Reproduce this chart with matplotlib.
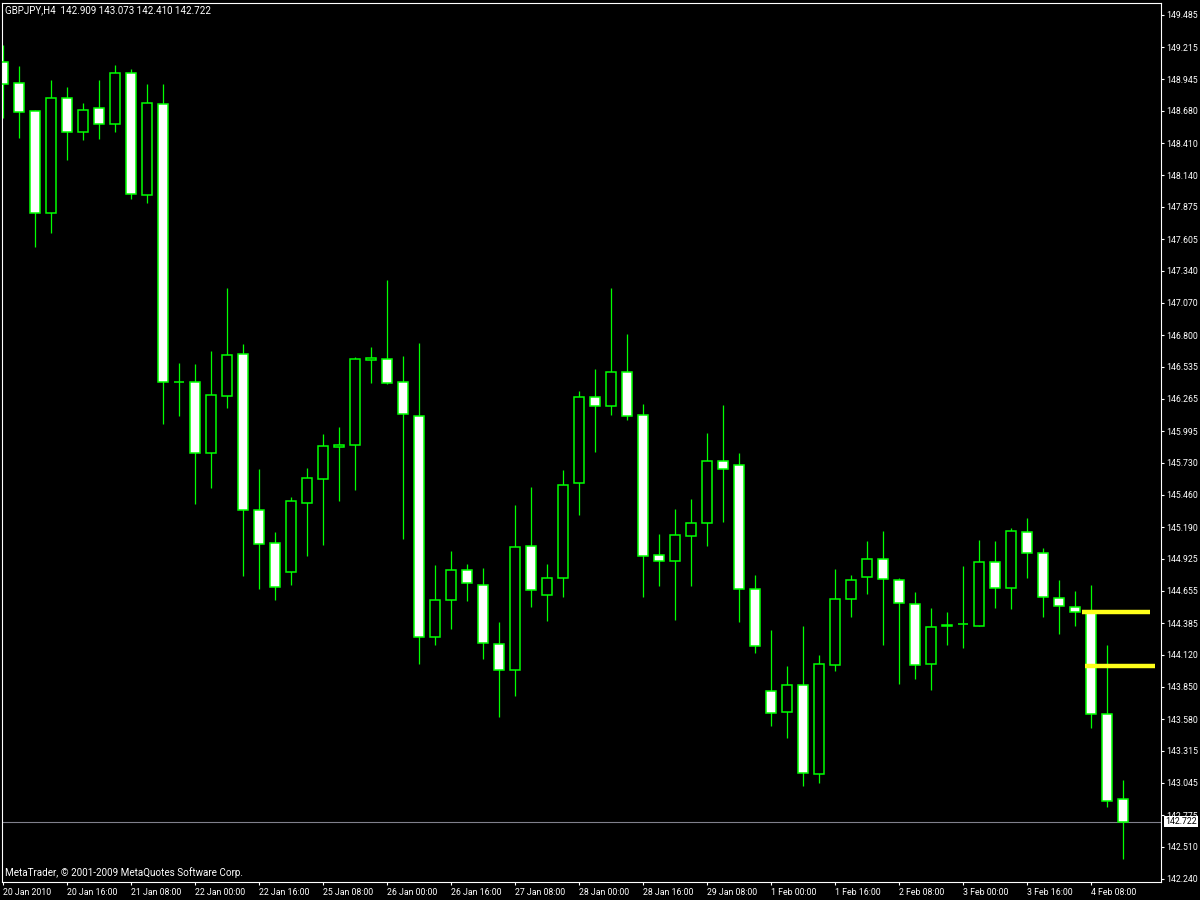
import numpy as np
import matplotlib
matplotlib.use("Agg")
import matplotlib.pyplot as plt
from matplotlib.transforms import blended_transform_factory

plt.rcParams['font.family'] = ['Roboto', 'DejaVu Sans']

symbol = "GBPJPY,H4"

# H4 bars, 20 Jan 2010 00:00 -> 4 Feb 2010 16:00
opens = [149.088, 148.912, 148.678, 147.822, 148.787, 148.507, 148.703, 148.574, 148.996, 147.973,
         148.736, 146.405, 146.405, 145.815, 146.293, 146.640, 145.332, 145.055, 144.817, 145.396,
         145.597, 145.860, 145.877, 146.595, 146.598, 146.405, 146.123, 144.267, 144.577, 144.829,
         144.703, 144.208, 143.990, 145.030, 144.619, 144.762, 145.558, 146.279, 146.209, 146.489,
         146.128, 144.954, 144.909, 145.119, 145.228, 145.743, 145.709, 144.669, 143.814, 143.643,
         143.864, 143.118, 144.037, 144.585, 144.770, 144.921, 144.745, 144.544, 144.040, 144.360,
         144.376, 144.364, 144.896, 144.678, 145.147, 144.971, 144.594, 144.518, 144.476, 143.621,
         142.909]
highs = [149.233, 149.057, 148.689, 148.940, 148.881, 148.747, 148.940, 149.066, 149.032, 148.907,
         148.907, 146.567, 146.559, 146.668, 147.196, 146.726, 145.678, 145.150, 145.443, 145.686,
         145.972, 146.030, 146.617, 146.701, 147.263, 146.626, 146.735, 144.873, 144.990, 144.882,
         144.848, 144.395, 145.376, 145.527, 144.882, 145.670, 146.332, 146.517, 147.196, 146.810,
         146.223, 145.133, 145.343, 145.427, 145.980, 146.215, 145.812, 144.789, 144.328, 144.026,
         144.362, 144.118, 144.840, 144.789, 145.074, 145.158, 144.764, 144.647, 144.513, 144.479,
         144.865, 145.083, 145.074, 145.183, 145.267, 145.016, 144.747, 144.655, 144.705, 144.202,
         143.073]
lows = [148.621, 148.456, 147.542, 147.660, 148.272, 148.440, 148.448, 148.507, 147.942, 147.911,
        146.058, 146.125, 145.387, 145.521, 146.192, 144.783, 144.672, 144.580, 144.705, 144.951,
        145.043, 145.412, 145.505, 146.402, 146.390, 145.094, 144.045, 144.202, 144.339, 144.574,
        144.087, 143.601, 143.777, 144.523, 144.406, 144.607, 145.295, 145.821, 146.133, 146.091,
        144.607, 144.700, 144.412, 144.700, 145.035, 145.236, 144.398, 144.138, 143.526, 143.425,
        143.022, 143.048, 143.987, 144.439, 144.632, 144.205, 143.878, 143.920, 143.827, 144.205,
        144.180, 144.360, 144.515, 144.507, 144.767, 144.439, 144.297, 144.364, 143.509, 142.846,
        142.410]
closes = [148.904, 148.674, 147.827, 148.787, 148.507, 148.686, 148.574, 148.996, 147.987, 148.745,
          146.410, 146.405, 145.815, 146.296, 146.632, 145.332, 145.052, 144.686, 145.407, 145.600,
          145.868, 145.877, 146.598, 146.605, 146.397, 146.137, 144.267, 144.577, 144.829, 144.720,
          144.216, 143.990, 145.022, 144.666, 144.762, 145.541, 146.279, 146.209, 146.489, 146.125,
          144.951, 144.904, 145.122, 145.223, 145.743, 145.681, 144.668, 144.196, 143.635, 143.864,
          143.126, 144.040, 144.585, 144.745, 144.921, 144.753, 144.552, 144.032, 144.351, 144.368,
          144.376, 144.896, 144.678, 145.156, 144.971, 144.602, 144.527, 144.476, 143.621, 142.891,
          142.722]

time_labels = ["20 Jan 2010", "20 Jan 16:00", "21 Jan 08:00", "22 Jan 00:00", "22 Jan 16:00",
               "25 Jan 08:00", "26 Jan 00:00", "26 Jan 16:00", "27 Jan 08:00", "28 Jan 00:00",
               "28 Jan 16:00", "29 Jan 08:00", "1 Feb 00:00", "1 Feb 16:00", "2 Feb 08:00",
               "3 Feb 00:00", "3 Feb 16:00", "4 Feb 08:00"]
bars_per_label = 4

price_ticks = [149.485, 149.215, 148.945, 148.680, 148.410, 148.140, 147.875, 147.605, 147.340,
               147.070, 146.800, 146.535, 146.265, 145.995, 145.730, 145.460, 145.190, 144.925,
               144.655, 144.385, 144.120, 143.850, 143.580, 143.315, 143.045, 142.775, 142.510,
               142.240]

# two yellow level objects drawn near the last bars
levels = [144.481, 144.028]
level_spans = [(67.4, 71.7), (67.6, 72.0)]

GREEN = "#00ff00"
FS = 6.3
W, H = 1200, 900

fig = plt.figure(figsize=(12, 9), dpi=100, facecolor="black")
ax = fig.add_axes([2 / W, 18 / H, 1159 / W, 879 / H], facecolor="black")

x = np.arange(len(opens))
o = np.array(opens)
c = np.array(closes)
up = c > o

ax.axhline(closes[-1], color="#80808c", lw=0.8, zorder=1)
ax.vlines(x, lows, highs, color=GREEN, lw=0.9, zorder=2)
ax.bar(x, np.abs(c - o), width=0.6, bottom=np.minimum(o, c),
       color=np.where(up, "black", "white"), edgecolor=GREEN, linewidth=1.1, zorder=3)

for lvl, (x0, x1) in zip(levels, level_spans):
    ax.hlines(lvl, x0, x1, color="#ffff1a", lw=3.2, zorder=4)

ax.set_xlim(-0.08, 72.36)
ax.set_ylim(142.2147, 149.5856)

ax.yaxis.tick_right()
ax.set_yticks(price_ticks)
ax.set_yticklabels([f"{p:.3f}" for p in price_ticks])
ax.set_xticks(np.arange(len(time_labels)) * bars_per_label)
ax.set_xticklabels(time_labels)
for lab in ax.get_xticklabels():
    lab.set_horizontalalignment("left")

ax.tick_params(axis="both", colors="white", labelcolor="white", labelsize=FS,
               direction="out", length=2.5, width=0.8)
ax.tick_params(axis="x", pad=1.5)
ax.tick_params(axis="y", pad=1)
for sp in ax.spines.values():
    sp.set_color("white")
    sp.set_linewidth(0.8)

trans = blended_transform_factory(ax.transAxes, ax.transData)
ax.text(1.0 + 4 / 1159, closes[-1], f"{closes[-1]:.3f}", transform=trans, ha="left", va="center",
        color="black", fontsize=FS, zorder=10, clip_on=False,
        bbox=dict(facecolor="white", edgecolor="none", pad=0.9))

header = f"{symbol}  {opens[-1]:.3f} {highs[-1]:.3f} {lows[-1]:.3f} {closes[-1]:.3f}"
fig.text(5 / W, 1 - 10 / H, header, color="white", fontsize=7.0, va="center", ha="left")
fig.text(5 / W, 1 - 873 / H, "MetaTrader, \u00a9 2001-2009 MetaQuotes Software Corp.",
         color="white", fontsize=7.1, va="center", ha="left")

fig.savefig("out.png", dpi=100, facecolor="black")
